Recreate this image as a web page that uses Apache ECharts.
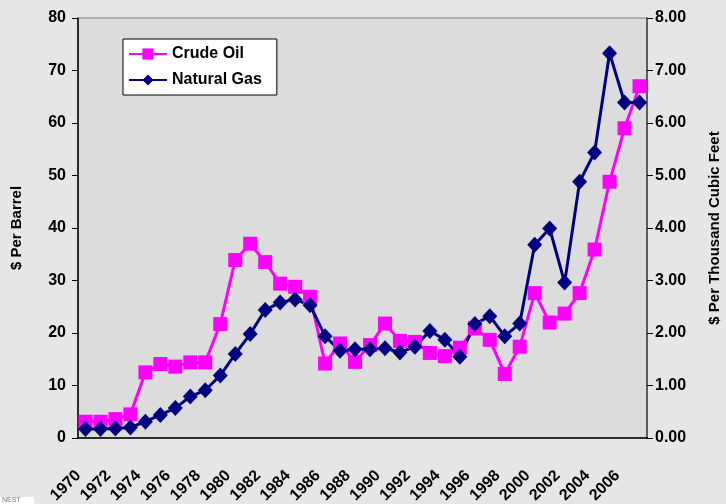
<!DOCTYPE html>
<html>
<head>
<meta charset="utf-8">
<script src="https://cdn.jsdelivr.net/npm/echarts@6/dist/echarts.min.js"></script>
<style>
  html, body { margin: 0; padding: 0; background: #e6e6e6; }
  #box { width: 726px; height: 504px; }
</style>
</head>
<body>
<div id="box"></div>
<script>
// 年份
const years = ['1970','1971','1972','1973','1974','1975','1976','1977','1978','1979',
  '1980','1981','1982','1983','1984','1985','1986','1987','1988','1989',
  '1990','1991','1992','1993','1994','1995','1996','1997','1998','1999',
  '2000','2001','2002','2003','2004','2005','2006','2007'];
// 原油 $/barrel
const crudeOil = [3.1, 3.1, 3.6, 4.5, 12.5, 14.1, 13.6, 14.4, 14.4, 21.7,
  33.9, 37.0, 33.5, 29.4, 28.8, 26.9, 14.2, 18.0, 14.5, 17.7,
  21.8, 18.5, 18.3, 16.2, 15.6, 17.2, 20.9, 18.7, 12.2, 17.4,
  27.6, 22.0, 23.7, 27.6, 35.9, 48.8, 59.0, 67.0];
// 天然气 $/thousand cubic feet
const naturalGas = [0.17, 0.17, 0.18, 0.20, 0.31, 0.44, 0.57, 0.79, 0.91, 1.19,
  1.60, 1.98, 2.44, 2.58, 2.64, 2.53, 1.94, 1.66, 1.69, 1.69,
  1.71, 1.63, 1.74, 2.04, 1.87, 1.55, 2.17, 2.32, 1.94, 2.18,
  3.68, 3.99, 2.96, 4.88, 5.44, 7.33, 6.39, 6.39];
const leftTicks = [0, 10, 20, 30, 40, 50, 60, 70, 80];
const rightTicks = [0, 1, 2, 3, 4, 5, 6, 7, 8];

const font = 'Liberation Sans, Arial, sans-serif';
const chart = echarts.init(document.getElementById('box'));

chart.setOption({
  backgroundColor: '#e6e6e6',
  animation: false,
  grid: {
    left: 78, right: 79, top: 18, bottom: 66,
    outerBoundsMode: 'none',
    containLabel: false,
    show: true,
    backgroundColor: '#dcdcdc',
    borderColor: '#808080',
    borderWidth: 1
  },
  legend: {
    left: 123, top: 39,
    orient: 'vertical',
    backgroundColor: '#ffffff',
    borderColor: '#000000',
    borderWidth: 1,
    borderRadius: 0,
    padding: [7, 15, 7, 5],
    itemGap: 10,
    itemWidth: 38,
    itemHeight: 14,
    textStyle: { fontFamily: font, fontSize: 16, fontWeight: 'bold', color: '#000' },
    data: ['Crude Oil', 'Natural Gas']
  },
  xAxis: {
    type: 'category',
    data: years,
    boundaryGap: true,
    axisLine: { lineStyle: { color: '#000', width: 1.5 } },
    axisTick: { interval: 0, length: 6, lineStyle: { color: '#000' } },
    axisLabel: {
      interval: 1,
      rotate: 45,
      margin: 28,
      padding: [0, 10, 0, 0],
      fontFamily: font, fontSize: 16, fontWeight: 'bold', color: '#000'
    },
    splitLine: { show: false }
  },
  yAxis: [
    {
      type: 'value',
      min: leftTicks[0], max: leftTicks[leftTicks.length - 1], interval: 10,
      name: '$ Per Barrel',
      nameLocation: 'middle',
      nameGap: 54,
      nameRotate: 90,
      nameTextStyle: { fontFamily: font, fontSize: 15, fontWeight: 'bold', color: '#000' },
      axisLine: { show: true, lineStyle: { color: '#000', width: 1.5 } },
      axisTick: { show: true, length: 6, lineStyle: { color: '#000' } },
      axisLabel: { margin: 12, fontFamily: font, fontSize: 16, fontWeight: 'bold', color: '#000' },
      splitLine: { show: false }
    },
    {
      type: 'value',
      min: rightTicks[0], max: rightTicks[rightTicks.length - 1], interval: 1,
      name: '$ Per Thousand Cubic Feet',
      nameLocation: 'middle',
      nameGap: 60,
      nameRotate: 90,
      nameTextStyle: { fontFamily: font, fontSize: 15, fontWeight: 'bold', color: '#000' },
      axisLine: { show: true, lineStyle: { color: '#404040', width: 1.5 } },
      axisTick: { show: true, length: 6, lineStyle: { color: '#000' } },
      axisLabel: {
        margin: 8,
        formatter: v => v.toFixed(2),
        fontFamily: font, fontSize: 16, fontWeight: 'bold', color: '#000'
      },
      splitLine: { show: false }
    }
  ],
  series: [
    {
      name: 'Crude Oil',
      type: 'line',
      yAxisIndex: 0,
      data: crudeOil,
      showSymbol: true,
      showAllSymbol: true,
      symbol: 'rect',
      symbolSize: 14,
      lineStyle: { color: '#ff00ff', width: 3 },
      itemStyle: { color: '#ff00ff' }
    },
    {
      name: 'Natural Gas',
      type: 'line',
      yAxisIndex: 1,
      data: naturalGas,
      showSymbol: true,
      showAllSymbol: true,
      symbol: 'diamond',
      symbolSize: [15, 16],
      lineStyle: { color: '#000080', width: 3 },
      itemStyle: { color: '#000080' }
    }
  ],
  graphic: [
    {
      type: 'rect',
      left: 0, bottom: 0,
      shape: { width: 34, height: 7 },
      style: { fill: '#ffffff' }
    },
    {
      type: 'text',
      left: 2, bottom: 0,
      style: { text: 'NEST', fontFamily: font, fontSize: 7, fill: '#777' }
    }
  ]
});
</script>
</body>
</html>
